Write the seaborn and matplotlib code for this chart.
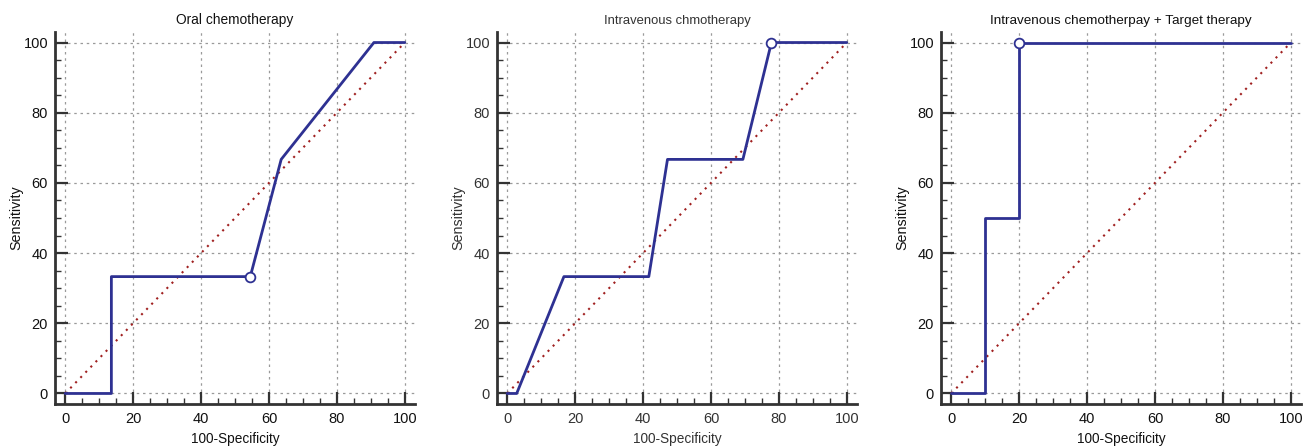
import matplotlib
matplotlib.use("Agg")
import matplotlib.pyplot as plt
import pandas as pd
import seaborn as sns
from matplotlib.ticker import MultipleLocator

# ROC curves (x = 100-Specificity, y = Sensitivity)
oral_x = [0, 13.6, 13.6, 54.5, 63.6, 90.9, 100]
oral_y = [0, 0, 33.3, 33.3, 66.7, 100, 100]
oral_best = (54.5, 33.3)

iv_x = [0, 2.8, 16.7, 41.7, 47.2, 69.4, 77.8, 100]
iv_y = [0, 0, 33.3, 33.3, 66.7, 66.7, 100, 100]
iv_best = (77.8, 100)

ivt_x = [0, 10, 10, 20, 20, 100]
ivt_y = [0, 0, 50, 50, 100, 100]
ivt_best = (20, 100)

titles = ["Oral chemotherapy", "Intravenous chmotherapy",
          "Intravenous chemotherpay + Target therapy"]
title_sizes = [9.9, 9.4, 9.7]
text_colors = ["#111111", "#333333", "#111111"]
ticks = [0, 20, 40, 60, 80, 100]

sns.set_style("ticks")
plt.rcParams["font.family"] = ["Liberation Sans", "DejaVu Sans"]

W, H = 1311, 448
fig = plt.figure(figsize=(W / 100, H / 100), dpi=100)

# left spine pixel positions of each panel
lefts = [55, 497, 941]
curves = [(oral_x, oral_y, oral_best), (iv_x, iv_y, iv_best), (ivt_x, ivt_y, ivt_best)]

roc_color = "#2e3192"
for i, (xs, ys, best) in enumerate(curves):
    ax = fig.add_axes([lefts[i] / W, (H - 404) / H, 360 / W, 372 / H])
    df = pd.DataFrame({"x": xs, "y": ys})

    # grid
    for t in ticks:
        ax.axvline(t, color="#9a9a9a", lw=0.9, ls=(0, (2, 3)), zorder=0)
        ax.axhline(t, color="#9a9a9a", lw=0.9, ls=(0, (2, 3)), zorder=0)

    # reference diagonal
    ax.plot([0, 100], [0, 100], color="#a02020", lw=1.5, ls=(0, (1, 2.5)), zorder=1)

    sns.lineplot(data=df, x="x", y="y", sort=False, estimator=None,
                 color=roc_color, lw=2, ax=ax, zorder=2)
    ax.plot(best[0], best[1], marker="o", ms=7, mfc="white", mec=roc_color,
            mew=1.3, zorder=3, clip_on=False)

    ax.set_xlim(-3, 103)
    ax.set_ylim(-3, 103)
    ax.set_xticks(ticks)
    ax.set_yticks(ticks)
    ax.xaxis.set_minor_locator(MultipleLocator(5))
    ax.yaxis.set_minor_locator(MultipleLocator(5))
    ax.tick_params(which="major", direction="in", length=9, width=1.6,
                   color="#333333", labelsize=10.5, pad=6,
                   labelcolor=text_colors[i])
    ax.tick_params(which="minor", direction="in", length=4.5, width=1.0,
                   color="#333333")
    ax.tick_params(axis="y", pad=5)
    for s in ["top", "right"]:
        ax.spines[s].set_visible(False)
    for s in ["left", "bottom"]:
        ax.spines[s].set_linewidth(2)
        ax.spines[s].set_color("#333333")

    ax.set_title(titles[i], fontsize=title_sizes[i], color=text_colors[i], pad=6)
    ax.set_xlabel("100-Specificity", fontsize=9.8, color=text_colors[i], labelpad=4)
    ax.set_ylabel("Sensitivity", fontsize=10.3, color=text_colors[i], labelpad=0)

fig.savefig("out.png", dpi=100)
